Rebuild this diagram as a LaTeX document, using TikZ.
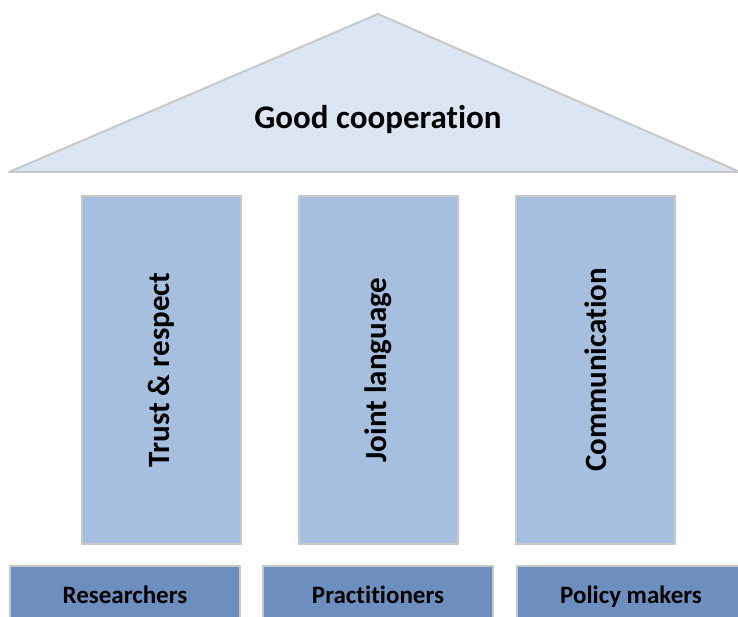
\documentclass[tikz,border=0pt]{standalone}
\usepackage{fontspec}
\setmainfont[Ligatures=NoCommon]{Carlito}
\definecolor{roofcol}{HTML}{DCE6F2}
\definecolor{edgecol}{HTML}{C8C8C8}
\definecolor{pillarcol}{HTML}{A6BFDF}
\definecolor{basecol}{HTML}{6D8FC0}
\tikzset{
  pillar/.style={draw=edgecol, line width=1.8pt, fill=pillarcol, minimum width=159pt, minimum height=348pt, inner sep=0pt},
  pillartext/.style={rotate=90, font=\bfseries\fontsize{31}{36}\selectfont},
  basebox/.style={draw=edgecol, line width=1.8pt, fill=basecol, minimum width=230pt, minimum height=60pt, inner sep=0pt},
  basetext/.style={anchor=base, font=\bfseries\fontsize{25}{30}\selectfont},
  rooftext/.style={font=\bfseries\fontsize{33}{40}\selectfont}
}
\begin{document}
\begin{tikzpicture}[x=1pt,y=-1pt]
\useasboundingbox (0,0) rectangle (738,617);
\clip (0,0) rectangle (738,617);
% roof
\coordinate (rl) at (9,172);
\coordinate (rt) at (378,14);
\coordinate (rr) at (740,172);
\draw[draw=edgecol, line width=2pt, fill=roofcol, line join=round] (rl) -- (rt) -- (rr) -- cycle;
\node[rooftext] (roof) at (378,120) {Good cooperation};
% pillars
\node[pillar] (p1) at (161.5,370) {};
\node[pillar] (p2) at (378.5,370) {};
\node[pillar] (p3) at (595.5,370) {};
\node[pillartext] (t1) at (p1.center) {Trust \& respect};
\node[pillartext] (t2) at (p2.center) {Joint language};
\node[pillartext] (t3) at (p3.center) {Communication};
% bases
\node[basebox] (b1) at (125,596) {};
\node[basebox] (b2) at (378,596) {};
\node[basebox] (b3) at (632,596) {};
\node[basetext] (l1) at (125,603) {Researchers};
\node[basetext] (l2) at (378,603) {Practitioners};
\node[basetext] (l3) at (631,603) {Policy makers};
\end{tikzpicture}
\end{document}
